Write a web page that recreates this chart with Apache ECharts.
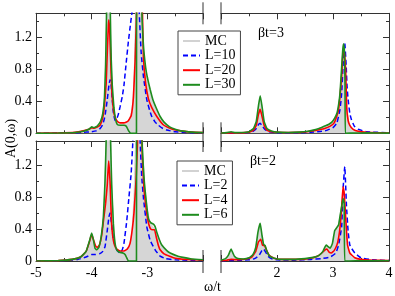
<!DOCTYPE html>
<html><head><meta charset="utf-8">
<script src="https://cdn.jsdelivr.net/npm/echarts@6/dist/echarts.min.js"></script>
<style>html,body{margin:0;padding:0;background:#fff}#c{width:395px;height:296px}</style>
</head><body><div id="c"></div><script>
// ---------- data (omega/t, A(0,omega)) ----------
const xLabelsLeft = [-5, -4, -3];
const xLabelsRight = [2, 3, 4];
const yLabels = ['0', '0.4', '0.8', '1.2'];
const legendTop = ['MC', 'L=10', 'L=20', 'L=30'];
const legendBottom = ['MC', 'L=2', 'L=4', 'L=6'];
const noteTop = 'βt=3';
const noteBottom = 'βt=2';

// top panel (beta t = 3), left part
const tlMC = [[-5,0],[-4.6,0.004],[-4.3,0.012],[-4.15,0.03],[-4.05,0.05],[-4.0,0.07],[-3.96,0.065],[-3.9,0.08],[-3.84,0.14],[-3.8,0.24],[-3.77,0.45],[-3.75,0.85],[-3.73,1.5],[-3.70,2.8],[-3.67,1.5],[-3.65,0.95],[-3.63,0.58],[-3.6,0.3],[-3.57,0.17],[-3.53,0.12],[-3.46,0.11],[-3.4,0.12],[-3.34,0.16],[-3.3,0.22],[-3.26,0.4],[-3.23,0.9],[-3.21,1.6],[-3.17,3],[-3.12,3],[-3.1,1.6],[-3.07,1.05],[-3.03,0.78],[-3.0,0.65],[-2.95,0.52],[-2.9,0.4],[-2.83,0.28],[-2.77,0.2],[-2.7,0.13],[-2.6,0.075],[-2.5,0.045],[-2.4,0.03],[-2.2,0.015],[-2.0,0.008]];
const tlL10 = [[-5,0],[-4.6,0.003],[-4.3,0.008],[-4.1,0.015],[-4.0,0.02],[-3.92,0.03],[-3.86,0.05],[-3.8,0.11],[-3.76,0.22],[-3.72,0.42],[-3.69,0.6],[-3.67,0.67],[-3.65,0.6],[-3.63,0.42],[-3.61,0.26],[-3.58,0.16],[-3.55,0.18],[-3.52,0.24],[-3.49,0.33],[-3.45,0.46],[-3.42,0.6],[-3.38,0.88],[-3.34,1.15],[-3.30,1.38],[-3.27,1.55],[-3.23,2.5],[-3.19,2.5],[-3.145,1.5],[-3.11,1.0],[-3.07,0.71],[-3.01,0.42],[-2.96,0.29],[-2.92,0.21],[-2.86,0.14],[-2.8,0.1],[-2.72,0.06],[-2.65,0.04],[-2.5,0.02],[-2.3,0.01],[-2.0,0.005]];
const tlL20 = [[-5,0],[-4.6,0.004],[-4.3,0.012],[-4.15,0.03],[-4.05,0.05],[-4.0,0.07],[-3.96,0.065],[-3.9,0.08],[-3.85,0.1],[-3.8,0.2],[-3.77,0.35],[-3.74,0.62],[-3.72,1.0],[-3.70,1.35],[-3.69,1.42],[-3.675,1.25],[-3.66,0.95],[-3.64,0.55],[-3.61,0.3],[-3.58,0.2],[-3.54,0.15],[-3.49,0.13],[-3.42,0.13],[-3.35,0.15],[-3.29,0.22],[-3.25,0.45],[-3.22,0.9],[-3.19,1.6],[-3.15,3],[-3.12,3],[-3.09,1.6],[-3.07,0.95],[-3.03,0.62],[-2.98,0.43],[-2.92,0.32],[-2.83,0.21],[-2.72,0.11],[-2.65,0.08],[-2.55,0.05],[-2.4,0.03],[-2.2,0.015],[-2.0,0.008]];
const tlL30 = [[-5,0],[-4.6,0.003],[-4.3,0.01],[-4.15,0.025],[-4.05,0.05],[-4.0,0.08],[-3.96,0.07],[-3.9,0.09],[-3.84,0.15],[-3.8,0.25],[-3.77,0.45],[-3.75,0.85],[-3.735,1.4],[-3.72,2.2],[-3.70,3],[-3.68,2.2],[-3.665,1.5],[-3.65,0.95],[-3.63,0.6],[-3.6,0.32],[-3.57,0.17],[-3.54,0.11],[-3.48,0.1],[-3.42,0.1],[-3.38,0.09],[-3.35,0.05],[-3.32,0.015],[-3.30,0],[-3.195,0],[-3.19,5],[-3.12,5],[-3.10,1.6],[-3.07,1.1],[-3.03,0.82],[-3.0,0.7],[-2.95,0.55],[-2.9,0.42],[-2.83,0.3],[-2.77,0.21],[-2.7,0.14],[-2.6,0.08],[-2.5,0.05],[-2.4,0.03],[-2.2,0.015],[-2.0,0.008]];

// top panel, right part
const trMC = [[1,0.003],[1.1,0.008],[1.18,0.015],[1.26,0.008],[1.4,0.01],[1.5,0.02],[1.58,0.05],[1.63,0.13],[1.67,0.32],[1.70,0.42],[1.73,0.3],[1.77,0.13],[1.82,0.05],[1.9,0.025],[2.0,0.015],[2.2,0.01],[2.4,0.015],[2.55,0.025],[2.65,0.04],[2.75,0.06],[2.85,0.085],[2.92,0.1],[2.98,0.13],[3.03,0.18],[3.07,0.24],[3.1,0.34],[3.125,0.48],[3.155,0.78],[3.175,1.0],[3.19,1.06],[3.21,0.95],[3.23,0.7],[3.25,0.33],[3.28,0.15],[3.32,0.07],[3.4,0.03],[3.5,0.015],[3.7,0.007],[4,0.003]];
const trL10 = [[1,0.002],[1.4,0.005],[1.55,0.015],[1.62,0.05],[1.67,0.11],[1.70,0.125],[1.73,0.1],[1.78,0.05],[1.85,0.02],[2,0.008],[2.4,0.008],[2.6,0.012],[2.8,0.025],[2.9,0.04],[3.0,0.07],[3.07,0.13],[3.125,0.3],[3.155,0.5],[3.18,0.85],[3.21,1.13],[3.235,0.85],[3.25,0.6],[3.27,0.42],[3.3,0.25],[3.33,0.17],[3.38,0.09],[3.45,0.05],[3.6,0.02],[4,0.005]];
const trL20 = [[1,0.003],[1.3,0.005],[1.5,0.015],[1.58,0.04],[1.63,0.1],[1.67,0.24],[1.70,0.30],[1.73,0.22],[1.77,0.1],[1.82,0.04],[1.9,0.02],[2.1,0.01],[2.4,0.012],[2.6,0.025],[2.75,0.045],[2.85,0.06],[2.95,0.09],[3.02,0.13],[3.07,0.22],[3.1,0.3],[3.13,0.5],[3.155,0.72],[3.175,0.98],[3.19,1.04],[3.205,1.0],[3.225,0.8],[3.245,0.32],[3.27,0.16],[3.3,0.1],[3.36,0.05],[3.45,0.025],[3.6,0.012],[4,0.003]];
const trL30 = [[1,0.003],[1.1,0.008],[1.18,0.02],[1.26,0.008],[1.4,0.01],[1.5,0.02],[1.58,0.06],[1.63,0.15],[1.67,0.35],[1.70,0.47],[1.73,0.35],[1.77,0.15],[1.82,0.06],[1.9,0.03],[2.0,0.015],[2.2,0.01],[2.4,0.015],[2.55,0.025],[2.65,0.04],[2.75,0.06],[2.85,0.09],[2.92,0.11],[2.98,0.14],[3.03,0.19],[3.07,0.25],[3.1,0.36],[3.125,0.5],[3.155,0.83],[3.175,1.05],[3.19,1.12],[3.205,1.0],[3.215,0.6],[3.22,0],[3.4,0.004],[3.6,0.005],[4,0.002]];

// bottom panel (beta t = 2), left part
const blMC = [[-5,0],[-4.6,0.005],[-4.35,0.02],[-4.2,0.05],[-4.1,0.11],[-4.04,0.23],[-4.0,0.32],[-3.97,0.26],[-3.94,0.17],[-3.91,0.15],[-3.87,0.18],[-3.83,0.3],[-3.79,0.55],[-3.76,1.0],[-3.74,1.5],[-3.70,2.6],[-3.66,1.5],[-3.64,0.95],[-3.61,0.47],[-3.58,0.22],[-3.55,0.15],[-3.5,0.12],[-3.44,0.11],[-3.38,0.13],[-3.33,0.18],[-3.28,0.35],[-3.24,0.8],[-3.21,1.6],[-3.17,4],[-3.12,4],[-3.09,1.6],[-3.05,0.95],[-3.0,0.65],[-2.95,0.48],[-2.9,0.43],[-2.86,0.4],[-2.82,0.32],[-2.76,0.22],[-2.7,0.15],[-2.6,0.09],[-2.45,0.05],[-2.3,0.03],[-2.0,0.012]];
const blL2 = [[-5,0],[-4.5,0.005],[-4.25,0.02],[-4.1,0.05],[-4.0,0.08],[-3.94,0.08],[-3.86,0.09],[-3.8,0.12],[-3.76,0.18],[-3.72,0.38],[-3.69,0.55],[-3.67,0.6],[-3.645,0.48],[-3.61,0.27],[-3.55,0.14],[-3.49,0.1],[-3.45,0.14],[-3.42,0.22],[-3.37,0.5],[-3.33,0.8],[-3.29,1.1],[-3.26,1.5],[-3.22,2.5],[-3.17,2.5],[-3.13,1.5],[-3.1,1.05],[-3.07,0.79],[-3.01,0.43],[-2.95,0.26],[-2.86,0.14],[-2.77,0.06],[-2.67,0.03],[-2.5,0.015],[-2.0,0.005]];
const blL4 = [[-5,0],[-4.6,0.005],[-4.35,0.02],[-4.2,0.05],[-4.1,0.12],[-4.04,0.24],[-4.0,0.33],[-3.97,0.27],[-3.93,0.19],[-3.9,0.17],[-3.86,0.2],[-3.82,0.32],[-3.78,0.55],[-3.75,0.72],[-3.72,0.95],[-3.695,1.25],[-3.67,1.0],[-3.645,0.5],[-3.62,0.3],[-3.59,0.2],[-3.55,0.15],[-3.49,0.125],[-3.42,0.125],[-3.36,0.15],[-3.31,0.22],[-3.27,0.4],[-3.24,0.6],[-3.2,1.05],[-3.17,1.6],[-3.14,3],[-3.11,2],[-3.09,1.3],[-3.06,0.91],[-3.03,0.7],[-3.0,0.55],[-2.97,0.45],[-2.94,0.4],[-2.9,0.39],[-2.87,0.39],[-2.84,0.3],[-2.8,0.19],[-2.77,0.14],[-2.7,0.09],[-2.6,0.06],[-2.5,0.035],[-2.3,0.02],[-2.0,0.01]];
const blL6 = [[-5,0],[-4.6,0.005],[-4.35,0.02],[-4.2,0.05],[-4.1,0.12],[-4.04,0.25],[-4.0,0.35],[-3.97,0.27],[-3.94,0.16],[-3.91,0.14],[-3.87,0.17],[-3.83,0.3],[-3.79,0.55],[-3.76,1.0],[-3.74,1.5],[-3.71,2.6],[-3.69,2.6],[-3.66,1.5],[-3.64,0.95],[-3.61,0.47],[-3.58,0.22],[-3.55,0.14],[-3.5,0.11],[-3.44,0.1],[-3.4,0.08],[-3.37,0.04],[-3.34,0],[-3.195,0],[-3.19,5],[-3.12,5],[-3.10,1.6],[-3.06,1.05],[-3.02,0.75],[-2.98,0.53],[-2.94,0.48],[-2.89,0.46],[-2.86,0.43],[-2.83,0.36],[-2.78,0.26],[-2.74,0.2],[-2.65,0.13],[-2.59,0.1],[-2.45,0.06],[-2.36,0.045],[-2.2,0.025],[-2.0,0.015]];

// bottom panel, right part
const brMC = [[1,0.008],[1.08,0.025],[1.13,0.06],[1.16,0.1],[1.18,0.13],[1.2,0.1],[1.24,0.05],[1.3,0.025],[1.4,0.022],[1.5,0.035],[1.57,0.07],[1.62,0.15],[1.66,0.32],[1.70,0.42],[1.73,0.3],[1.76,0.2],[1.79,0.18],[1.82,0.11],[1.87,0.055],[1.95,0.03],[2.1,0.02],[2.3,0.02],[2.5,0.03],[2.65,0.04],[2.75,0.065],[2.82,0.11],[2.86,0.17],[2.88,0.19],[2.91,0.17],[2.95,0.16],[2.99,0.22],[3.03,0.35],[3.07,0.42],[3.1,0.47],[3.13,0.58],[3.155,0.7],[3.18,0.85],[3.2,0.8],[3.22,0.5],[3.25,0.2],[3.28,0.1],[3.33,0.05],[3.45,0.02],[3.7,0.01],[4,0.005]];
const brL2 = [[1,0.003],[1.3,0.008],[1.5,0.015],[1.6,0.03],[1.68,0.07],[1.73,0.13],[1.76,0.15],[1.79,0.12],[1.84,0.06],[1.9,0.03],[2.0,0.015],[2.3,0.01],[2.6,0.02],[2.8,0.03],[2.95,0.05],[3.05,0.1],[3.1,0.2],[3.155,0.43],[3.18,0.9],[3.21,1.18],[3.24,0.7],[3.27,0.37],[3.3,0.2],[3.33,0.16],[3.39,0.1],[3.5,0.04],[3.7,0.015],[4,0.006]];
const brL4 = [[1,0.005],[1.1,0.01],[1.18,0.02],[1.3,0.015],[1.45,0.025],[1.55,0.05],[1.62,0.12],[1.67,0.24],[1.71,0.27],[1.74,0.2],[1.78,0.19],[1.81,0.14],[1.86,0.07],[1.95,0.035],[2.1,0.02],[2.4,0.02],[2.6,0.035],[2.72,0.06],[2.8,0.1],[2.86,0.14],[2.89,0.15],[2.93,0.11],[2.97,0.1],[3.02,0.13],[3.07,0.2],[3.1,0.29],[3.13,0.45],[3.155,0.68],[3.18,0.93],[3.2,0.85],[3.23,0.5],[3.26,0.2],[3.3,0.1],[3.39,0.04],[3.5,0.02],[3.7,0.01],[4,0.005]];
const brL6 = [[1,0.01],[1.08,0.03],[1.13,0.07],[1.16,0.12],[1.18,0.15],[1.2,0.12],[1.24,0.06],[1.3,0.03],[1.4,0.025],[1.5,0.04],[1.57,0.08],[1.62,0.17],[1.66,0.36],[1.70,0.47],[1.73,0.33],[1.76,0.21],[1.79,0.19],[1.82,0.12],[1.87,0.06],[1.95,0.035],[2.1,0.02],[2.3,0.02],[2.5,0.03],[2.65,0.045],[2.75,0.07],[2.82,0.12],[2.86,0.18],[2.88,0.2],[2.91,0.18],[2.95,0.16],[2.99,0.22],[3.03,0.38],[3.07,0.42],[3.1,0.45],[3.13,0.58],[3.155,0.68],[3.18,0.78],[3.2,0.72],[3.21,0],[3.4,0.004],[3.6,0.004],[4,0.003]];

// ---------- layout / style ----------
const FONT = 'Liberation Serif';
const AX = '#333';
const grids = [
  {left: 36, top: 13.3, width: 167, height: 120},
  {left: 221, top: 13.3, width: 168, height: 120},
  {left: 36, top: 141, width: 167, height: 120},
  {left: 221, top: 141, width: 168, height: 120}
];
const ranges = [[-5, -2], [1, 4], [-5, -2], [1, 4]];
const STY = {
  mc: {color: '#d2d2d2', width: 1, type: 'solid', area: true},
  b: {color: '#0000ff', width: 1.5, type: [5, 3]},
  r: {color: '#ff0000', width: 1.6, type: 'solid'},
  g: {color: '#1e8c1e', width: 1.6, type: 'solid'}
};

const xAxes = [], yAxes = [];
grids.forEach((g, i) => {
  const isLeft = i % 2 === 0, isBottom = i >= 2;
  const labs = isLeft ? xLabelsLeft : xLabelsRight;
  const base = {
    type: 'value', gridIndex: i, min: ranges[i][0], max: ranges[i][1], interval: 1,
    axisLine: {show: true, onZero: false, lineStyle: {color: AX, width: 1}},
    axisTick: {show: true, inside: true, length: 6, lineStyle: {color: AX}},
    minorTick: {show: true, splitNumber: 2, length: 3, lineStyle: {color: AX}},
    splitLine: {show: false}, minorSplitLine: {show: false}
  };
  xAxes.push(Object.assign({}, base, {
    position: 'bottom',
    axisLabel: {show: isBottom, margin: 5, fontSize: 14, fontFamily: FONT, color: '#000',
      formatter: v => labs.some(l => Math.abs(l - v) < 1e-6) ? String(v) : ''}
  }));
  xAxes.push(Object.assign({}, base, {position: 'top', axisLabel: {show: false}}));
  const ybase = {
    type: 'value', gridIndex: i, min: 0, max: 1.5, position: isLeft ? 'left' : 'right',
    splitLine: {show: false}
  };
  yAxes.push(Object.assign({}, ybase, {
    interval: 0.4,
    axisLine: {show: true, lineStyle: {color: AX, width: 1}},
    axisTick: {show: true, inside: true, length: 6, lineStyle: {color: AX}},
    axisLabel: {show: isLeft, margin: 4, fontSize: 14, fontFamily: FONT, color: '#000',
      formatter: v => { const f = yLabels.find(l => Math.abs(parseFloat(l) - v) < 1e-6); return f === undefined ? '' : f; }}
  }));
  yAxes.push(Object.assign({}, ybase, {
    interval: 0.2,
    axisLine: {show: false},
    axisTick: {show: true, inside: true, length: 3, lineStyle: {color: AX}},
    axisLabel: {show: false}
  }));
});

function mk(name, data, gi, st) {
  const s = {
    name, type: 'line', data, xAxisIndex: gi * 2, yAxisIndex: gi * 2,
    symbol: 'none', showSymbol: false, smooth: 0.12, clip: true,
    lineStyle: {color: st.color, width: st.width, type: st.type},
    itemStyle: {color: st.color}, animation: false, silent: true
  };
  if (st.area) s.areaStyle = {color: '#d6d6d6', opacity: 1};
  return s;
}
const series = [
  mk('MC', tlMC, 0, STY.mc), mk('L=10', tlL10, 0, STY.b), mk('L=20', tlL20, 0, STY.r), mk('L=30', tlL30, 0, STY.g),
  mk('MC', trMC, 1, STY.mc), mk('L=10', trL10, 1, STY.b), mk('L=20', trL20, 1, STY.r), mk('L=30', trL30, 1, STY.g),
  mk('MC', blMC, 2, STY.mc), mk('L=2', blL2, 2, STY.b), mk('L=4', blL4, 2, STY.r), mk('L=6', blL6, 2, STY.g),
  mk('MC', brMC, 3, STY.mc), mk('L=2', brL2, 3, STY.b), mk('L=4', brL4, 3, STY.r), mk('L=6', brL6, 3, STY.g)
];

function legend(data, left, top) {
  return {
    data, left, top, orient: 'vertical', itemWidth: 17, itemHeight: 13, itemGap: 0.6,
    padding: [3, 5, 3, 4], borderColor: '#444', borderWidth: 1, backgroundColor: '#fff',
    selectedMode: false, itemStyle: {opacity: 0},
    textStyle: {fontFamily: FONT, fontSize: 14, color: '#000', lineHeight: 13}
  };
}

const xBreakL = grids[0].left + grids[0].width, xBreakR = grids[1].left;
const topA = grids[0].top, botA = grids[0].top + grids[0].height;
const topB = grids[2].top, botB = grids[2].top + grids[2].height;
const brk = (x, y1, y2) => ({type: 'line', shape: {x1: x, y1, x2: x, y2}, style: {stroke: AX, lineWidth: 1}, silent: true});
const txt = (t, x, y) => ({type: 'text', x, y, style: {text: t, font: '14px ' + FONT, fill: '#000'}, silent: true});

const option = {
  animation: false,
  grid: grids.map(g => Object.assign({outerBoundsMode: 'none', containLabel: false}, g)),
  xAxis: xAxes, yAxis: yAxes, series,
  legend: [legend(legendTop, 178, 31), legend(legendBottom, 177, 161)],
  graphic: [
    brk(xBreakL, topA - 11, topA + 11), brk(xBreakR, topA - 11, topA + 11),
    brk(xBreakL, botA - 11, topB + 11), brk(xBreakR, botA - 11, topB + 11),
    brk(xBreakL, botB - 11, botB + 12), brk(xBreakR, botB - 11, botB + 12),
    txt(noteTop, 258, 26),
    txt(noteBottom, 250, 154),
    txt('ω/t', 204, 280),
    {type: 'text', x: 4, y: 158, rotation: Math.PI / 2, style: {text: 'A(0,ω)', font: '14px ' + FONT, fill: '#000'}, silent: true}
  ]
};
const chart = echarts.init(document.getElementById('c'), null, {renderer: 'canvas'});
chart.setOption(option);
</script></body></html>
